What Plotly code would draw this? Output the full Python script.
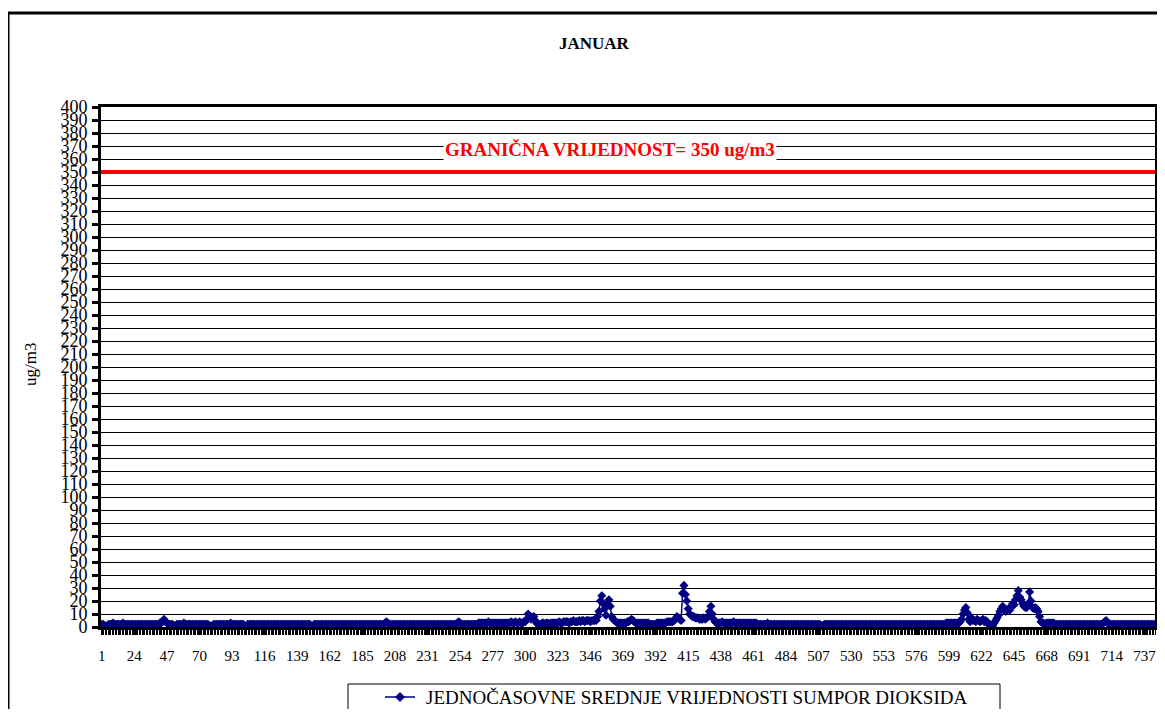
import plotly.graph_objects as go

# ---------------- DATA (hourly SO2, January, ug/m3) ----------------
day01 = [2, 2, 1, 1, 1, 2, 2, 2, 3, 2, 2, 2, 2, 2, 2, 3, 2, 2, 2, 2, 2, 2, 2, 2]
day02 = [2, 2, 2, 2, 2, 2, 2, 2, 2, 2, 2, 2, 2, 2, 2, 2, 2, 3, 3, 4, 6, 4, 3, 2]
day03 = [2, 2, 2, 1, 1, 2, 2, 2, 2, 2, 3, 2, 2, 2, 2, 2, 2, 2, 2, 2, 2, 2, 2, 2]
day04 = [2, 2, 2, 2, 1, 1, 1, 2, 2, 2, 2, 2, 2, 2, 2, 2, 2, 2, 2, 3, 2, 2, 2, 2]
day05 = [2, 2, 2, 2, 2, 1, 1, 2, 2, 2, 2, 2, 2, 2, 2, 2, 2, 2, 2, 2, 2, 2, 2, 2]
day06 = [2, 2, 2, 2, 2, 2, 2, 2, 2, 2, 2, 2, 2, 2, 2, 2, 2, 2, 2, 2, 2, 2, 2, 2]
day07 = [2, 2, 2, 2, 1, 1, 2, 2, 2, 2, 2, 2, 2, 2, 2, 2, 2, 2, 2, 2, 2, 2, 2, 2]
day08 = [2, 2, 2, 2, 2, 2, 2, 2, 2, 2, 2, 2, 2, 2, 2, 2, 2, 2, 2, 2, 2, 2, 2, 2]
day09 = [2, 2, 2, 2, 2, 2, 2, 2, 3, 4, 3, 2, 2, 2, 2, 2, 2, 2, 2, 2, 2, 2, 2, 2]
day10 = [2, 2, 2, 2, 2, 2, 2, 2, 2, 2, 2, 2, 2, 2, 2, 2, 2, 2, 2, 2, 2, 2, 2, 2]
day11 = [2, 2, 2, 2, 2, 2, 2, 2, 2, 2, 2, 3, 4, 3, 2, 2, 2, 2, 2, 2, 2, 2, 2, 2]
day12 = [2, 2, 3, 3, 3, 3, 3, 3, 3, 4, 3, 3, 3, 3, 3, 3, 3, 3, 3, 3, 3, 3, 3, 3]
day13 = [3, 4, 3, 3, 4, 3, 3, 4, 3, 3, 4, 4, 6, 10, 8, 6, 7, 8, 5, 3, 2, 2, 2, 3]
day14 = [3, 2, 3, 3, 2, 3, 3, 3, 3, 3, 3, 4, 3, 3, 4, 4, 4, 4, 3, 4, 4, 5, 4, 4]
day15 = [4, 5, 4, 5, 5, 4, 5, 5, 5, 4, 5, 5, 5, 5, 8, 12, 20, 24, 18, 14, 9, 18, 21, 16]
day16 = [8, 6, 5, 4, 3, 3, 3, 3, 3, 3, 3, 4, 4, 5, 6, 5, 4, 3, 3, 3, 3, 3, 3, 3]
day17 = [3, 3, 3, 2, 2, 2, 2, 2, 3, 3, 3, 3, 3, 3, 3, 4, 4, 4, 4, 4, 5, 6, 8, 7]
day18 = [6, 5, 26, 32, 25, 20, 14, 10, 9, 8, 8, 7, 7, 7, 6, 6, 6, 7, 6, 7, 8, 12, 16, 10]
day19 = [6, 4, 3, 3, 3, 3, 4, 3, 3, 3, 3, 3, 3, 3, 4, 3, 3, 3, 3, 3, 3, 3, 3, 3]
day20 = [3, 3, 3, 3, 3, 3, 3, 2, 2, 2, 2, 2, 2, 2, 3, 2, 2, 2, 2, 2, 2, 2, 2, 2]
day21 = [2, 2, 2, 2, 2, 2, 2, 2, 2, 2, 2, 2, 2, 2, 2, 2, 2, 2, 2, 2, 2, 2, 2, 2]
day22 = [2, 2, 2, 2, 1, 1, 2, 2, 2, 2, 2, 2, 2, 2, 2, 2, 2, 2, 2, 2, 2, 2, 2, 2]
day23 = [2, 2, 2, 2, 2, 2, 2, 2, 2, 2, 2, 2, 2, 2, 2, 2, 2, 2, 2, 2, 2, 2, 2, 2]
day24 = [2, 2, 2, 2, 2, 2, 2, 2, 2, 2, 2, 2, 2, 2, 2, 2, 2, 2, 2, 2, 2, 2, 2, 2]
day25 = [2, 2, 2, 2, 2, 2, 2, 2, 2, 2, 2, 2, 2, 2, 2, 2, 2, 2, 2, 2, 3, 3, 3, 3]
day26 = [3, 3, 3, 3, 3, 3, 4, 6, 10, 13, 15, 11, 6, 4, 7, 5, 5, 4, 6, 5, 4, 5, 6, 4]
day27 = [5, 4, 2, 1, 0, 1, 3, 5, 7, 9, 12, 14, 16, 13, 12, 13, 14, 13, 16, 18, 17, 21, 24, 28]
day28 = [23, 21, 18, 16, 15, 15, 18, 27, 20, 15, 14, 15, 14, 12, 8, 4, 3, 3, 2, 3, 3, 3, 3, 3]
day29 = [3, 2, 2, 2, 2, 2, 2, 2, 2, 2, 2, 2, 2, 2, 2, 2, 2, 2, 2, 2, 2, 2, 2, 2]
day30 = [2, 2, 2, 2, 2, 2, 2, 2, 2, 2, 2, 3, 4, 5, 3, 2, 2, 2, 2, 2, 2, 2, 2, 2]
day31 = [2, 2, 2, 2, 2, 2, 2, 2, 2, 2, 2, 2, 2, 2, 2, 2, 2, 2, 2, 2, 2, 2, 2, 2]

days = [day01, day02, day03, day04, day05, day06, day07, day08, day09, day10,
        day11, day12, day13, day14, day15, day16, day17, day18, day19, day20,
        day21, day22, day23, day24, day25, day26, day27, day28, day29, day30, day31]
so2_values = [v for d in days for v in d]
hours = list(range(1, len(so2_values) + 1))

x_tick_labels = [1, 24, 47, 70, 93, 116, 139, 162, 185, 208, 231, 254, 277, 300,
                 323, 346, 369, 392, 415, 438, 461, 484, 507, 530, 553, 576, 599,
                 622, 645, 668, 691, 714, 737]
y_tick_values = list(range(0, 401, 10))
limit_value = 350

chart_title = "JANUAR"
series_name = "JEDNOČASOVNE SREDNJE VRIJEDNOSTI SUMPOR DIOKSIDA"
limit_label = "GRANIČNA VRIJEDNOST= 350 ug/m3"
y_title = "ug/m3"

# ---------------- LAYOUT HELPERS ----------------
# page body adds an 8px margin; figure sized so that it fits the window exactly
OFF = 8
W, H = 1165 - 2 * OFF, 717 - 2 * OFF
PLOT_L, PLOT_R, PLOT_T, PLOT_B = 101, 1155, 107, 627   # page pixels
L = PLOT_L - OFF
R = (OFF + W) - PLOT_R
T = PLOT_T - OFF
B = (OFF + H) - PLOT_B
PW, PH = PLOT_R - PLOT_L, PLOT_B - PLOT_T


def px_x(px):
    return (px - PLOT_L) / PW


def px_y(py):
    return (PLOT_B - py) / PH


SERIF = "Liberation Serif, Times New Roman, serif"
NAVY = "#000080"

fig = go.Figure()
fig.add_trace(go.Scatter(
    x=hours, y=so2_values, mode="lines+markers", name=series_name,
    line=dict(color=NAVY, width=1.5),
    marker=dict(symbol="diamond", size=7, color=NAVY),
    showlegend=False,
))

# hand-drawn legend (Excel style box below the plot)
LEG_Y = 697
LEG_SYM_X = 400
dxp, dyp = 4.5 / PW, 4.5 / PH
diamond_path = "M {a},{b} L {c},{d} L {e},{f} L {g},{h} Z".format(
    a=px_x(LEG_SYM_X) - dxp, b=px_y(LEG_Y),
    c=px_x(LEG_SYM_X), d=px_y(LEG_Y) + dyp,
    e=px_x(LEG_SYM_X) + dxp, f=px_y(LEG_Y),
    g=px_x(LEG_SYM_X), h=px_y(LEG_Y) - dyp)

fig.update_layout(
    width=W, height=H,
    margin=dict(l=L, r=R, t=T, b=B, autoexpand=False),
    paper_bgcolor="white", plot_bgcolor="white",
    showlegend=False,
    xaxis=dict(
        range=[0.5, len(so2_values) + 0.5],
        tickmode="array", tickvals=x_tick_labels,
        ticktext=[str(v) for v in x_tick_labels],
        ticks="outside", ticklen=5, tickwidth=1, tickcolor="black",
        minor=dict(ticks="outside", ticklen=5, tickwidth=1, tickcolor="black",
                   dtick=1, tick0=0.5),
        tickfont=dict(family=SERIF, size=15, color="black"),
        ticklabelstandoff=8,
        showgrid=False, zeroline=False,
        showline=True, linecolor="black", linewidth=3, mirror=True,
    ),
    yaxis=dict(
        range=[0, 400],
        tickmode="array", tickvals=y_tick_values,
        ticktext=[str(v) for v in y_tick_values],
        ticks="outside", ticklen=6, tickwidth=3, tickcolor="black",
        tickfont=dict(family=SERIF, size=18, color="black"),
        ticklabelstandoff=1,
        showgrid=True, gridcolor="black", gridwidth=1,
        zeroline=False,
        showline=True, linecolor="black", linewidth=3, mirror=True,
    ),
    shapes=[
        # limit line
        dict(type="line", xref="paper", x0=0, x1=1, yref="y",
             y0=limit_value, y1=limit_value,
             line=dict(color="#ff0000", width=4)),
        # outer chart border
        dict(type="rect", xref="paper", yref="paper",
             x0=px_x(8), x1=px_x(1185), y0=px_y(740), y1=px_y(13),
             line=dict(color="black", width=3), layer="above"),
        # legend box
        dict(type="rect", xref="paper", yref="paper",
             x0=px_x(348), x1=px_x(1000), y0=px_y(730), y1=px_y(684),
             line=dict(color="black", width=1), layer="above"),
        # legend symbol: line + diamond
        dict(type="line", xref="paper", yref="paper",
             x0=px_x(LEG_SYM_X - 15), x1=px_x(LEG_SYM_X + 15),
             y0=px_y(LEG_Y), y1=px_y(LEG_Y),
             line=dict(color=NAVY, width=1.5), layer="above"),
        dict(type="path", xref="paper", yref="paper", path=diamond_path,
             fillcolor=NAVY, line=dict(color=NAVY, width=1), layer="above"),
    ],
    annotations=[
        dict(text="<b>" + chart_title + "</b>", xref="paper", yref="paper",
             x=px_x(594), y=px_y(43), xanchor="center", yanchor="middle",
             showarrow=False,
             font=dict(family=SERIF, size=17, color="black")),
        dict(text=y_title, xref="paper", yref="paper",
             x=px_x(30), y=px_y(365), xanchor="center", yanchor="middle",
             showarrow=False, textangle=-90,
             font=dict(family=SERIF, size=17, color="black")),
        dict(text="<b>" + limit_label + "</b>", xref="paper", yref="y",
             x=px_x(610), y=367.5, xanchor="center", yanchor="middle",
             showarrow=False, bgcolor="white", borderpad=1,
             font=dict(family=SERIF, size=19, color="#ff0000")),
        dict(text=series_name, xref="paper", yref="paper",
             x=px_x(424), y=px_y(LEG_Y), xanchor="left", yanchor="middle",
             showarrow=False,
             font=dict(family=SERIF, size=19, color="black")),
    ],
)

fig.write_html("out.html")
